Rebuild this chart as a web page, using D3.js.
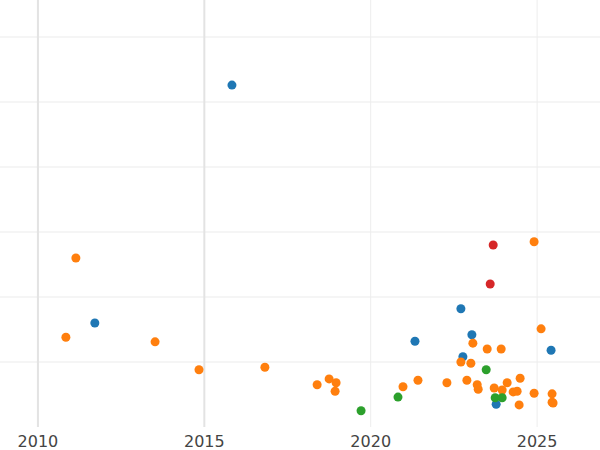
<!DOCTYPE html>
<html><head><meta charset="utf-8">
<script src="https://cdn.jsdelivr.net/npm/d3@7"></script>
<style>body{margin:0;background:#fff}</style>
</head><body>
<svg id="chart" width="600" height="450"></svg>
<script>
// data (year, value in grid units)
var blueYears = [2015.83,2011.71,2021.33,2022.71,2023.04,2022.77,2025.42,2023.77];
var blueVals  = [5.26,1.60,1.32,1.82,1.42,1.08,1.18,0.35];
var redYears  = [2023.68,2023.59];
var redVals   = [2.80,2.20];
var greenYears = [2019.71,2020.82,2023.47,2023.74,2023.95];
var greenVals  = [0.25,0.46,0.88,0.45,0.45];
var orangeYears = [2011.14,2010.84,2013.52,2014.84,2016.82,2018.39,2018.75,2018.96,2018.93,2020.97,2021.42,2022.29,2022.71,2022.89,2023.07,2023.01,2023.20,2023.23,2023.50,2023.71,2023.92,2023.95,2024.10,2024.28,2024.40,2024.49,2024.46,2024.91,2024.91,2025.12,2025.45,2025.45,2025.48];
var orangeVals  = [2.60,1.38,1.31,0.88,0.92,0.65,0.74,0.68,0.55,0.62,0.72,0.68,1.00,0.72,1.29,0.98,0.65,0.58,1.20,0.60,1.20,0.57,0.68,0.54,0.55,0.75,0.34,2.85,0.52,1.51,0.51,0.38,0.37];
var xTicks = [2010,2015,2020,2025];
var yGrid = [1,2,3,4,5,6];

var series = [
  {color:"#1f77b4", xs:blueYears, ys:blueVals},
  {color:"#ff7f0e", xs:orangeYears, ys:orangeVals},
  {color:"#2ca02c", xs:greenYears, ys:greenVals},
  {color:"#d62728", xs:redYears, ys:redVals}
];

var svg = d3.select("#chart");
var x = d3.scaleLinear().domain([2008.86, 2026.89]).range([0, 600]);
var y = d3.scaleLinear().domain([0, 6]).range([427, 37]);

svg.selectAll("line.h").data(yGrid).enter().append("line")
  .attr("x1",0).attr("x2",600)
  .attr("y1",function(d){return y(d);}).attr("y2",function(d){return y(d);})
  .attr("stroke","#ebebeb").attr("stroke-width",1);

svg.selectAll("line.v").data(xTicks).enter().append("line")
  .attr("x1",function(d){return x(d);}).attr("x2",function(d){return x(d);})
  .attr("y1",0).attr("y2",427)
  .attr("stroke",function(d){return d < 2020 ? "#e3e3e3" : "#ededed";})
  .attr("stroke-width",function(d){return d < 2020 ? 2 : 1;});

svg.selectAll("text.xt").data(xTicks).enter().append("text")
  .attr("x",function(d){return x(d);}).attr("y",447)
  .attr("text-anchor","middle")
  .attr("font-family","DejaVu Sans, sans-serif").attr("font-size",16)
  .attr("fill","#444").text(function(d){return d;});

series.forEach(function(s){
  var pts = s.xs.map(function(v,i){return [v, s.ys[i]];});
  svg.append("g").selectAll("circle").data(pts).enter().append("circle")
    .attr("cx",function(d){return x(d[0]);})
    .attr("cy",function(d){return y(d[1]);})
    .attr("r",4.5).attr("fill",s.color);
});
</script>
</body></html>
